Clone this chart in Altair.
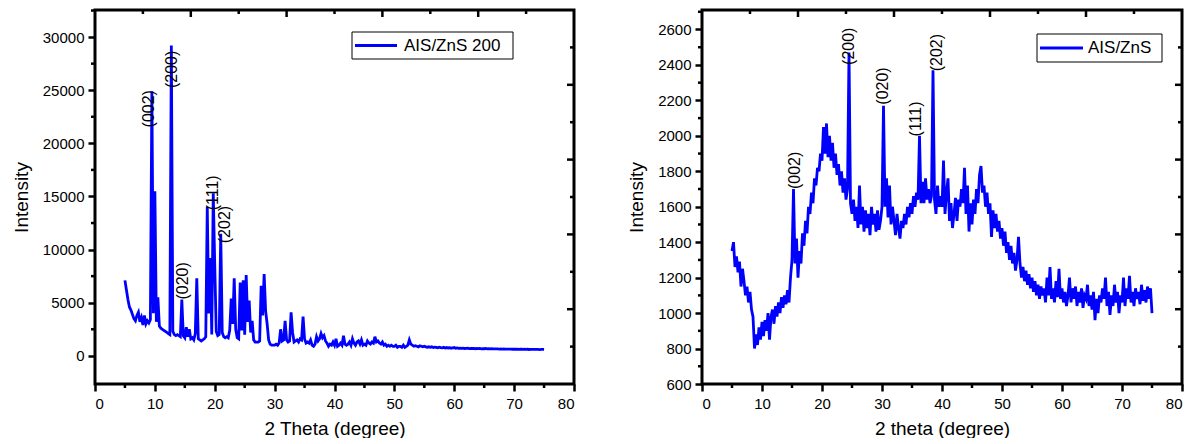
import altair as alt
import pandas as pd

FONT = "Liberation Sans"
BLUE = "#0000FF"

# ---------------- data: AIS/ZnS 200 (left) ----------------
# 2-theta sampling grid: 5.0 .. 75.0 every 0.25 degree; each row = one degree (4 samples)
left_start, left_step = 5.0, 0.25
left_rows = [
    [7100, 6200, 5300, 4600],   # 5
    [4300, 3900, 3500, 3300],   # 6
    [3800, 4100, 3200, 3600],   # 7
    [2900, 3800, 3000, 3300],   # 8
    [3100, 3400, 24900, 4000],  # 9
    [15500, 3200, 5500, 2800],  # 10
    [2600, 2500, 2400, 2300],   # 11
    [2200, 2100, 2000, 29200],  # 12
    [2300, 2000, 1900, 2000],   # 13
    [1900, 1800, 5300, 1900],   # 14
    [1700, 2700, 1800, 2500],   # 15
    [1600, 1700, 1500, 2100],   # 16
    [7300, 1600, 1500, 1400],   # 17
    [1500, 1600, 1800, 14000],  # 18
    [4000, 9200, 2000, 15300],  # 19
    [8500, 2300, 1900, 2000],   # 20
    [11500, 2200, 1800, 1700],  # 21
    [1800, 1700, 2400, 5400],   # 22
    [3000, 7300, 2500, 1700],   # 23
    [1600, 6900, 2400, 7100],   # 24
    [2000, 7600, 3200, 5200],   # 25
    [2200, 3300, 1500, 1300],   # 26
    [1300, 1300, 1400, 6600],   # 27
    [3800, 7700, 4200, 3000],   # 28
    [1500, 1100, 1000, 1000],   # 29
    [1000, 1100, 1000, 1200],   # 30
    [2500, 1400, 1500, 3300],   # 31
    [1500, 1300, 1400, 4100],   # 32
    [2200, 1300, 1400, 1500],   # 33
    [1300, 1600, 1500, 3700],   # 34
    [1600, 1200, 1300, 1200],   # 35
    [1500, 1000, 900, 1100],    # 36
    [1800, 1400, 1600, 2100],   # 37
    [1700, 1900, 1400, 1200],   # 38
    [900, 1100, 1000, 1300],    # 39
    [1000, 1600, 900, 1000],    # 40
    [1200, 1000, 1900, 1100],   # 41
    [1000, 1100, 1300, 1000],   # 42
    [1600, 1200, 1000, 1300],   # 43
    [1400, 1100, 1500, 1000],   # 44
    [1100, 1000, 1400, 1200],   # 45
    [1100, 1300, 1200, 1800],   # 46
    [1300, 1400, 1200, 1100],   # 47
    [1300, 1000, 1100, 900],    # 48
    [1000, 900, 1000, 900],     # 49
    [900, 1000, 800, 900],      # 50
    [900, 800, 1000, 800],      # 51
    [900, 1000, 1500, 1100],    # 52
    [1000, 900, 950, 900],      # 53
    [850, 950, 900, 850],       # 54
    [900, 850, 800, 850],       # 55
    [800, 850, 780, 820],       # 56
    [800, 760, 820, 780],       # 57
    [760, 800, 740, 780],       # 58
    [740, 760, 720, 760],       # 59
    [780, 720, 740, 700],       # 60
    [720, 700, 730, 690],       # 61
    [700, 720, 680, 700],       # 62
    [690, 700, 670, 690],       # 63
    [680, 700, 660, 680],       # 64
    [670, 690, 650, 670],       # 65
    [660, 670, 650, 660],       # 66
    [650, 660, 640, 650],       # 67
    [640, 650, 630, 640],       # 68
    [640, 630, 640, 620],       # 69
    [630, 620, 630, 610],       # 70
    [620, 630, 610, 620],       # 71
    [610, 620, 600, 610],       # 72
    [600, 610, 600, 610],       # 73
    [600, 590, 600, 610],       # 74
    [600],                      # 75
]

left_name = "AIS/ZnS 200"
left_peak_labels = ["(002)", "(200)", "(020)", "(111)", "(202)"]
left_peak_x = [9.0, 12.9, 14.75, 19.75, 21.7]
left_peak_y = [21500, 25200, 5300, 13700, 10600]

# ---------------- data: AIS/ZnS (right) ----------------
right_start, right_step = 5.0, 0.25
right_rows = [
    [1350, 1400, 1260, 1320],   # 5
    [1230, 1290, 1150, 1250],   # 6
    [1180, 1100, 1150, 1060],   # 7
    [1120, 1020, 980, 800],     # 8
    [880, 820, 920, 850],       # 9
    [950, 870, 960, 900],       # 10
    [1000, 850, 980, 1020],     # 11
    [940, 1040, 980, 1060],     # 12
    [1000, 1090, 1030, 1100],   # 13
    [1050, 1130, 1060, 1200],   # 14
    [1300, 1700, 1280, 1420],   # 15
    [1200, 1350, 1280, 1450],   # 16
    [1380, 1520, 1450, 1600],   # 17
    [1560, 1680, 1620, 1760],   # 18
    [1720, 1820, 1800, 1900],   # 19
    [1860, 2050, 1900, 2070],   # 20
    [1880, 2000, 1860, 1960],   # 21
    [1820, 1900, 1780, 1840],   # 22
    [1720, 1800, 1680, 1760],   # 23
    [1640, 1700, 2470, 1620],   # 24
    [1560, 1640, 1520, 1600],   # 25
    [1480, 1720, 1500, 1600],   # 26
    [1460, 1580, 1480, 1560],   # 27
    [1440, 1600, 1500, 1560],   # 28
    [1460, 1580, 1470, 1520],   # 29
    [1600, 2170, 1600, 1760],   # 30
    [1540, 1720, 1500, 1600],   # 31
    [1520, 1440, 1560, 1480],   # 32
    [1420, 1520, 1480, 1560],   # 33
    [1500, 1600, 1540, 1620],   # 34
    [1560, 1660, 1600, 1680],   # 35
    [1640, 2000, 1620, 1740],   # 36
    [1620, 1760, 1640, 1700],   # 37
    [1620, 1660, 2370, 1640],   # 38
    [1560, 1720, 1600, 1660],   # 39
    [1600, 1860, 1560, 1680],   # 40
    [1760, 1520, 1620, 1480],   # 41
    [1560, 1650, 1520, 1640],   # 42
    [1600, 1700, 1620, 1820],   # 43
    [1560, 1720, 1460, 1620],   # 44
    [1500, 1640, 1560, 1700],   # 45
    [1620, 1780, 1830, 1680],   # 46
    [1720, 1600, 1680, 1560],   # 47
    [1620, 1430, 1580, 1480],   # 48
    [1560, 1460, 1520, 1420],   # 49
    [1480, 1380, 1460, 1340],   # 50
    [1400, 1300, 1380, 1280],   # 51
    [1340, 1240, 1300, 1430],   # 52
    [1280, 1200, 1260, 1180],   # 53
    [1240, 1160, 1220, 1140],   # 54
    [1200, 1120, 1180, 1100],   # 55
    [1160, 1080, 1150, 1100],   # 56
    [1140, 1060, 1200, 1100],   # 57
    [1260, 1080, 1140, 1060],   # 58
    [1180, 1090, 1250, 1080],   # 59
    [1140, 1060, 1120, 1040],   # 60
    [1100, 1200, 1060, 1140],   # 61
    [1080, 1150, 1040, 1120],   # 62
    [1060, 1140, 1030, 1100],   # 63
    [1080, 1160, 1040, 1100],   # 64
    [1020, 1120, 960, 1080],    # 65
    [1000, 1100, 1060, 1140],   # 66
    [1080, 1200, 1040, 1120],   # 67
    [990, 1100, 1040, 1160],    # 68
    [1060, 1120, 1000, 1100],   # 69
    [1060, 1200, 1040, 1140],   # 70
    [1080, 1210, 1060, 1120],   # 71
    [1040, 1140, 1080, 1120],   # 72
    [1050, 1160, 1070, 1130],   # 73
    [1060, 1150, 1080, 1140],   # 74
    [1000],                     # 75
]

right_name = "AIS/ZnS"
right_peak_labels = ["(002)", "(200)", "(020)", "(111)", "(202)"]
right_peak_x = [15.5, 24.5, 30.2, 35.6, 39.2]
right_peak_y = [1700, 2400, 2176, 1997, 2364]

# axis settings
x_domain = [0, 80]
x_major = list(range(0, 81, 10))
x_minor = list(range(5, 80, 10))
left_y_domain = [-2650, 32550]
left_y_major = list(range(0, 30001, 5000))
left_y_minor = list(range(2500, 32501, 5000))
right_y_domain = [600, 2710]
right_y_major = list(range(600, 2601, 200))
right_y_minor = list(range(700, 2701, 200))
left_x_title = "2 Theta (degree)"
right_x_title = "2 theta (degree)"
y_title = "Intensity"


def flatten(rows, start, step):
    ys = [v for r in rows for v in r]
    xs = [start + i * step for i in range(len(ys))]
    return xs, ys


def frame_ticks(dom, n=10):
    span = dom[1] - dom[0]
    major = [dom[0] + k * span / (n / 2) for k in range(1, int(n / 2))]
    minor = [dom[0] + (2 * k + 1) * span / n for k in range(int(n / 2))]
    return major, minor


def panel(rows, start, step, name, ydom, ymaj_vals, ymin_vals, xtitle,
          plabels, px, py, leg, W, H):
    xs, ys = flatten(rows, start, step)
    df = pd.DataFrame({"theta": xs, "counts": ys})
    xscale = alt.Scale(domain=x_domain, nice=False, zero=False)
    yscale = alt.Scale(domain=ydom, nice=False, zero=False)

    x_axis = alt.Axis(
        values=x_major, title=xtitle, grid=False, domain=False,
        tickSize=7, tickWidth=2.5, tickColor="black", labelPadding=5, titlePadding=8,
        labelFont=FONT, labelFontSize=15, labelColor="black",
        titleFont=FONT, titleFontSize=19, titleFontWeight="normal", titleColor="black",
    )
    y_axis = alt.Axis(
        values=ymaj_vals, title=y_title, grid=False, domain=False,
        tickSize=7, tickWidth=2.5, tickColor="black", labelPadding=4, titlePadding=11,
        format="d",
        labelFont=FONT, labelFontSize=15, labelColor="black",
        titleFont=FONT, titleFontSize=19, titleFontWeight="normal", titleColor="black",
    )

    def X():
        return alt.X("theta:Q", scale=xscale, axis=x_axis)

    def Y():
        return alt.Y("counts:Q", scale=yscale, axis=y_axis)

    line = alt.Chart(df).mark_line(color=BLUE, strokeWidth=2.8, clip=True).encode(x=X(), y=Y())

    pk = pd.DataFrame({"lab": plabels, "theta": px, "counts": py})
    labels = alt.Chart(pk).mark_text(
        angle=270, align="left", baseline="middle", font=FONT, fontSize=16, color="black"
    ).encode(x=X(), y=Y(), text="lab:N")

    tick = dict(color="black", strokeWidth=2.5)
    # outward minor ticks on bottom and left
    bot_min = alt.Chart(pd.DataFrame({"theta": x_minor})).mark_rule(**tick).encode(
        x=X(), y=alt.value(H), y2=alt.value(H + 4))
    left_min = alt.Chart(pd.DataFrame({"counts": ymin_vals})).mark_rule(**tick).encode(
        y=Y(), x=alt.value(0), x2=alt.value(-4))

    # inward ticks on top and right frame edges
    xmaj, xmin = frame_ticks(x_domain)
    ymaj, ymin = frame_ticks(ydom)
    top_maj = alt.Chart(pd.DataFrame({"theta": xmaj})).mark_rule(**tick).encode(
        x=X(), y=alt.value(0), y2=alt.value(7))
    top_min = alt.Chart(pd.DataFrame({"theta": xmin})).mark_rule(**tick).encode(
        x=X(), y=alt.value(0), y2=alt.value(4))
    right_maj = alt.Chart(pd.DataFrame({"counts": ymaj})).mark_rule(**tick).encode(
        y=Y(), x=alt.value(W), x2=alt.value(W - 7))
    right_min = alt.Chart(pd.DataFrame({"counts": ymin})).mark_rule(**tick).encode(
        y=Y(), x=alt.value(W), x2=alt.value(W - 4))

    one = pd.DataFrame({"k": [0]})
    frame = alt.Chart(one).mark_rect(fillOpacity=0, stroke="black", strokeWidth=3).encode(
        x=alt.value(0), x2=alt.value(W), y=alt.value(0), y2=alt.value(H))

    # legend box
    bx0, bx1, by0, by1, lx0, lx1, tx, my = leg
    box = alt.Chart(one).mark_rect(fill="white", stroke="black", strokeWidth=1).encode(
        x=alt.value(bx0), x2=alt.value(bx1), y=alt.value(by0), y2=alt.value(by1))
    sample = alt.Chart(one).mark_rule(color=BLUE, strokeWidth=3).encode(
        x=alt.value(lx0), x2=alt.value(lx1), y=alt.value(my))
    leg_text = alt.Chart(one).mark_text(
        align="left", baseline="middle", font=FONT, fontSize=17, color="black"
    ).encode(x=alt.value(tx), y=alt.value(my), text=alt.value(name))

    return alt.layer(line, labels, bot_min, left_min, top_maj, top_min, right_maj, right_min,
                     frame, box, sample, leg_text).properties(width=W, height=H)


left = panel(left_rows, left_start, left_step, left_name, left_y_domain,
             left_y_major, left_y_minor, left_x_title,
             left_peak_labels, left_peak_x, left_peak_y,
             (257, 418, 22, 49, 260, 302, 309, 35.5), 479, 374)
right = panel(right_rows, right_start, right_step, right_name, right_y_domain,
              right_y_major, right_y_minor, right_x_title,
              right_peak_labels, right_peak_x, right_peak_y,
              (335, 460, 24, 52, 338, 381, 386, 38), 480, 374)

chart = alt.hconcat(left, right, spacing=51).properties(
    padding={"left": 4, "top": 0, "right": 0, "bottom": 0}
).configure(background="white").configure_view(strokeWidth=0)

chart.save("out.html", embed_options={"renderer": "svg", "actions": False})
